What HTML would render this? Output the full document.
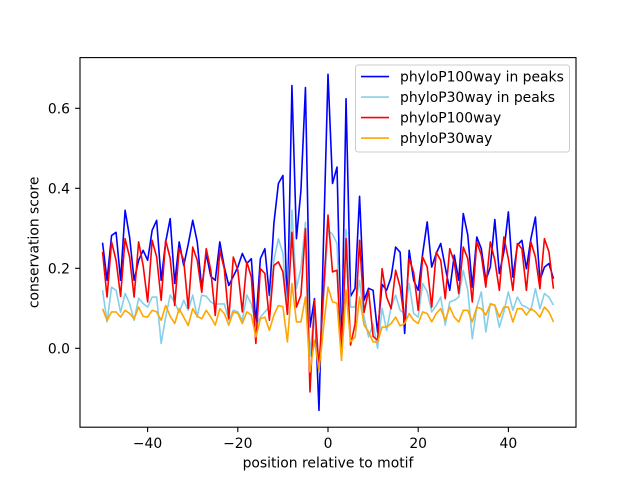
<!DOCTYPE html>
<html><head><meta charset="utf-8"><style>
html,body{margin:0;padding:0;background:#fff;}
svg{display:block;}
text{font-family:"DejaVu Sans","Liberation Sans",sans-serif;font-size:13.9px;fill:#000;}
polyline{vector-effect:non-scaling-stroke;stroke-width:1.6px;fill:none;stroke-linejoin:round;}
</style></head><body>
<svg width="640" height="480" viewBox="0 0 640 480" xmlns="http://www.w3.org/2000/svg">
<rect width="640" height="480" fill="#fff"/>
<g transform="translate(328,348.3) scale(4.509,-400)">
<polyline vector-effect="non-scaling-stroke" stroke-width="1.6" stroke="#0000ff" points="-50,0.264 -49,0.17 -48,0.282 -47,0.29 -46,0.17 -45,0.345 -44,0.278 -43,0.17 -42,0.22 -41,0.245 -40,0.22 -39,0.295 -38,0.32 -37,0.17 -36,0.266 -35,0.324 -34,0.162 -33,0.266 -32,0.207 -31,0.26 -30,0.32 -29,0.266 -28,0.15 -27,0.237 -26,0.18 -25,0.17 -24,0.266 -23,0.203 -22,0.157 -21,0.18 -20,0.203 -19,0.237 -18,0.212 -17,0.224 -16,0.062 -15,0.224 -14,0.249 -13,0.132 -12,0.312 -11,0.412 -10,0.432 -9,0.087 -8,0.657 -7,0.274 -6,0.395 -5,0.652 -4,0.053 -3,0.124 -2,-0.155 -1,0.265 0,0.685 1,0.412 2,0.453 3,-0.02 4,0.624 5,0.13 6,0.15 7,0.38 8,0.12 9,0.15 10,0.145 11,0.04 12,0.16 13,0.145 14,0.178 15,0.253 16,0.24 17,0.037 18,0.245 19,0.17 20,0.145 21,0.237 22,0.316 23,0.203 24,0.237 25,0.262 26,0.203 27,0.145 28,0.233 29,0.17 30,0.337 31,0.283 32,0.153 33,0.278 34,0.249 35,0.17 36,0.203 37,0.322 38,0.187 39,0.241 40,0.341 41,0.178 42,0.258 43,0.27 44,0.199 45,0.274 46,0.328 47,0.17 48,0.203 49,0.212 50,0.174"/>
<polyline vector-effect="non-scaling-stroke" stroke-width="1.6" stroke="#87ceeb" points="-50,0.145 -49,0.066 -48,0.153 -47,0.145 -46,0.09 -45,0.137 -44,0.112 -43,0.07 -42,0.125 -41,0.112 -40,0.103 -39,0.128 -38,0.128 -37,0.012 -36,0.078 -35,0.133 -34,0.115 -33,0.09 -32,0.12 -31,0.095 -30,0.133 -29,0.078 -28,0.133 -27,0.13 -26,0.116 -25,0.11 -24,0.111 -23,0.111 -22,0.07 -21,0.095 -20,0.091 -19,0.07 -18,0.133 -17,0.111 -16,0.058 -15,0.078 -14,0.091 -13,0.103 -12,0.22 -11,0.274 -10,0.237 -9,0.091 -8,0.345 -7,0.15 -6,0.2 -5,0.315 -4,-0.02 -3,0.1 -2,-0.06 -1,0.12 0,0.295 1,0.285 2,0.262 3,-0.03 4,0.297 5,0.103 6,0.103 7,0.17 8,0.078 9,0.028 10,0.06 11,0.0 12,0.1 13,0.045 14,0.103 15,0.133 16,0.095 17,0.087 18,0.162 19,0.087 20,0.078 21,0.162 22,0.141 23,0.091 24,0.107 25,0.128 26,0.058 27,0.116 28,0.12 29,0.128 30,0.195 31,0.145 32,0.024 33,0.103 34,0.141 35,0.041 36,0.112 37,0.108 38,0.053 39,0.091 40,0.141 41,0.095 42,0.128 43,0.108 44,0.103 45,0.095 46,0.149 47,0.099 48,0.137 49,0.128 50,0.108"/>
<polyline vector-effect="non-scaling-stroke" stroke-width="1.6" stroke="#ff0000" points="-50,0.241 -49,0.128 -48,0.266 -47,0.22 -46,0.13 -45,0.274 -44,0.228 -43,0.128 -42,0.266 -41,0.207 -40,0.116 -39,0.27 -38,0.228 -37,0.12 -36,0.27 -35,0.225 -34,0.107 -33,0.25 -32,0.22 -31,0.1 -30,0.253 -29,0.22 -28,0.14 -27,0.249 -26,0.195 -25,0.082 -24,0.245 -23,0.199 -22,0.074 -21,0.228 -20,0.195 -19,0.091 -18,0.216 -17,0.178 -16,0.012 -15,0.199 -14,0.187 -13,0.07 -12,0.207 -11,0.216 -10,0.191 -9,0.085 -8,0.29 -7,0.103 -6,0.133 -5,0.299 -4,-0.109 -3,0.12 -2,-0.05 -1,0.14 0,0.333 1,0.191 2,0.195 3,-0.02 4,0.274 5,0.008 6,0.06 7,0.27 8,0.09 9,0.145 10,0.03 11,0.02 12,0.199 13,0.128 14,0.099 15,0.195 16,0.153 17,0.066 18,0.224 19,0.19 20,0.095 21,0.228 22,0.203 23,0.103 24,0.24 25,0.22 26,0.124 27,0.249 28,0.216 29,0.137 30,0.253 31,0.224 32,0.116 33,0.266 34,0.233 35,0.153 36,0.266 37,0.22 38,0.145 39,0.278 40,0.224 41,0.145 42,0.262 43,0.249 44,0.145 45,0.266 46,0.228 47,0.149 48,0.274 49,0.241 50,0.149"/>
<polyline vector-effect="non-scaling-stroke" stroke-width="1.6" stroke="#ffa500" points="-50,0.099 -49,0.07 -48,0.091 -47,0.091 -46,0.078 -45,0.095 -44,0.087 -43,0.074 -42,0.103 -41,0.08 -40,0.078 -39,0.095 -38,0.091 -37,0.07 -36,0.107 -35,0.08 -34,0.062 -33,0.099 -32,0.078 -31,0.057 -30,0.099 -29,0.08 -28,0.074 -27,0.095 -26,0.078 -25,0.058 -24,0.099 -23,0.087 -22,0.058 -21,0.091 -20,0.087 -19,0.062 -18,0.091 -17,0.083 -16,0.028 -15,0.074 -14,0.078 -13,0.045 -12,0.083 -11,0.107 -10,0.104 -9,0.016 -8,0.162 -7,0.066 -6,0.066 -5,0.128 -4,-0.059 -3,0.02 -2,-0.055 -1,0.05 0,0.153 1,0.116 2,0.113 3,-0.03 4,0.145 5,0.016 6,0.028 7,0.128 8,0.058 9,0.041 10,0.016 11,0.016 12,0.053 13,0.053 14,0.062 15,0.078 16,0.056 17,0.062 18,0.087 19,0.07 20,0.062 21,0.091 22,0.087 23,0.066 24,0.087 25,0.099 26,0.07 27,0.103 28,0.078 29,0.066 30,0.095 31,0.095 32,0.066 33,0.103 34,0.099 35,0.083 36,0.11 37,0.108 38,0.078 39,0.103 40,0.103 41,0.066 42,0.099 43,0.099 44,0.083 45,0.099 46,0.091 47,0.078 48,0.103 49,0.091 50,0.066"/>
</g>
<rect x="80" y="57.6" width="496" height="369.6" fill="none" stroke="#000" stroke-width="1.1"/>
<g stroke="#000" stroke-width="1.1">
<line x1="75.1" y1="348.3" x2="80" y2="348.3"/>
<line x1="75.1" y1="268.3" x2="80" y2="268.3"/>
<line x1="75.1" y1="188.3" x2="80" y2="188.3"/>
<line x1="75.1" y1="108.3" x2="80" y2="108.3"/>
<line x1="147.6" y1="427.2" x2="147.6" y2="432.1"/>
<line x1="237.8" y1="427.2" x2="237.8" y2="432.1"/>
<line x1="328" y1="427.2" x2="328" y2="432.1"/>
<line x1="418.2" y1="427.2" x2="418.2" y2="432.1"/>
<line x1="508.4" y1="427.2" x2="508.4" y2="432.1"/>
</g>
<g text-anchor="end">
<text x="70" y="353.3">0.0</text>
<text x="70" y="273.3">0.2</text>
<text x="70" y="193.3">0.4</text>
<text x="70" y="113.3">0.6</text>
</g>
<g text-anchor="middle">
<text x="147.6" y="447.8">−40</text>
<text x="237.8" y="447.8">−20</text>
<text x="328" y="447.8">0</text>
<text x="418.2" y="447.8">20</text>
<text x="508.4" y="447.8">40</text>
<text x="328" y="467.5">position relative to motif</text>
<text transform="translate(38.5,242.4) rotate(-90)">conservation score</text>
</g>
<rect x="355.5" y="65" width="214" height="87" rx="2.8" ry="2.8" fill="#fff" fill-opacity="0.8" stroke="#cccccc" stroke-width="1"/>
<g stroke-width="1.6">
<line x1="361" y1="76.6" x2="389" y2="76.6" stroke="#0000ff"/>
<line x1="361" y1="97.1" x2="389" y2="97.1" stroke="#87ceeb"/>
<line x1="361" y1="117.6" x2="389" y2="117.6" stroke="#ff0000"/>
<line x1="361" y1="138.1" x2="389" y2="138.1" stroke="#ffa500"/>
</g>
<text x="400" y="81.3">phyloP100way in peaks</text>
<text x="400" y="101.8">phyloP30way in peaks</text>
<text x="400" y="122.3">phyloP100way</text>
<text x="400" y="142.8">phyloP30way</text>
</svg>
</body></html>
